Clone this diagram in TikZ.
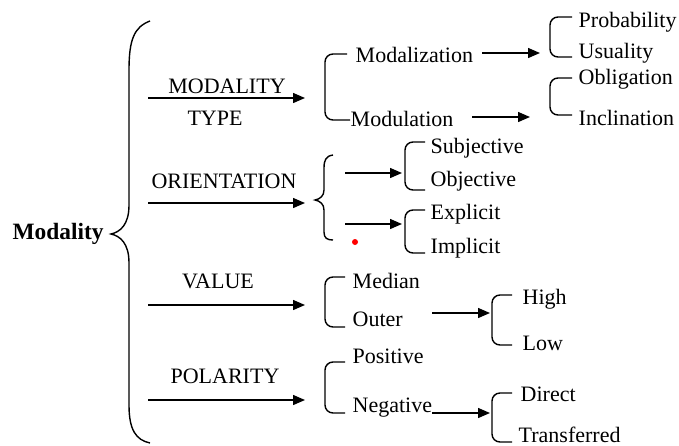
\documentclass[tikz,border=0pt]{standalone}
\usepackage{fontspec}
\setmainfont{Liberation Serif}
\usetikzlibrary{arrows.meta}

\begin{document}
\begin{tikzpicture}[x=0.5pt,y=-0.5pt,line width=0.7pt,font=\fontsize{11}{13}\selectfont,
    lbl/.style={anchor=west,inner sep=0pt},
    arr/.style={-{Triangle[length=6pt,width=5pt]}},
    brk/.style={rounded corners=4}]
    \useasboundingbox (0,0) rectangle (679,445);

    \node[font=\fontsize{11.7}{13}\bfseries] (mod) at (58,234) {Modality};
    \draw (150,21) .. controls (134,27) and (129,40) .. (129,70) -- (129,205)
        .. controls (129,225) and (120,232) .. (111,234)
        .. controls (120,236) and (129,243) .. (129,263) -- (129,405)
        .. controls (129,430) and (136,440) .. (150,443);

    \foreach \y/\n in {98/ty,203/or,305/va,400/po}{
        \coordinate (s\n) at (148,\y);
        \coordinate (e\n) at (305,\y);
        \draw[arr] (s\n) -- (e\n);
    }
    \node (tyA) at (227,86) {MODALITY};
    \node (tyB) at (215,118) {TYPE};
    \node (or) at (224,181) {ORIENTATION};
    \node (va) at (218,281) {VALUE};
    \node (po) at (225,376) {POLARITY};

    \draw[brk] (347,54) -- (325,54) -- (325,120) -- (350,120);
    \node[lbl] (modz) at (355,55) {Modalization};
    \node[lbl] (modu) at (350,119) {Modulation};
    \draw[brk] (572,17) -- (550,17) -- (550,57) -- (572,57);
    \draw[brk] (572,78) -- (550,78) -- (550,115) -- (572,115);
    \node[lbl] (prob) at (578,22) {Probability};
    \node[lbl] (usu) at (578,53) {Usuality};
    \node[lbl] (obl) at (578,79) {Obligation};
    \node[lbl] (inc) at (578,118) {Inclination};
    \coordinate (m1a) at (482,53); \coordinate (m1b) at (540,53);
    \coordinate (m2a) at (472,117); \coordinate (m2b) at (530,117);
    \draw[arr] (m1a) -- (m1b);
    \draw[arr] (m2a) -- (m2b);

    \draw (333,155) .. controls (326,156) and (324,160) .. (324,168) -- (324,190)
        .. controls (324,196) and (320,199) .. (315,200)
        .. controls (320,201) and (324,204) .. (324,210) -- (324,232)
        .. controls (324,238) and (327,240) .. (333,240);
    \coordinate (o1a) at (345,173); \coordinate (o1b) at (402,173);
    \coordinate (o2a) at (345,224); \coordinate (o2b) at (402,224);
    \draw[arr] (o1a) -- (o1b);
    \draw[arr] (o2a) -- (o2b);
    \draw[brk] (425,142) -- (405,142) -- (405,190) -- (425,190);
    \draw[brk] (425,210) -- (405,210) -- (405,253) -- (425,253);
    \node[lbl] (subj) at (430,148) {Subjective};
    \node[lbl] (obj) at (430,181) {Objective};
    \node[lbl] (expl) at (430,214) {Explicit};
    \node[lbl] (impl) at (430,248) {Implicit};
    \fill[red] (355,242) circle (3);

    \draw[brk] (345,277) -- (325,277) -- (325,327) -- (345,327);
    \node[lbl] (med) at (352,281) {Median};
    \node[lbl] (out) at (352,319) {Outer};
    \coordinate (v1a) at (432,313); \coordinate (v1b) at (490,313);
    \draw[arr] (v1a) -- (v1b);
    \draw[brk] (512,295) -- (492,295) -- (492,345) -- (512,345);
    \node[lbl] (high) at (522,299) {High};
    \node[lbl] (low) at (522,343) {Low};

    \draw[brk] (345,362) -- (325,362) -- (325,413) -- (345,413);
    \node[lbl] (pos) at (352,356) {Positive};
    \node[lbl] (neg) at (352,408) {Negative};
    \coordinate (p1a) at (432,413); \coordinate (p1b) at (490,413);
    \draw[arr] (p1a) -- (p1b);
    \draw[brk] (512,393) -- (492,393) -- (492,442) -- (512,442);
    \node[lbl] (dir) at (520,394) {Direct};
    \node[lbl] (tra) at (518,435) {Transferred};
\end{tikzpicture}
\end{document}
